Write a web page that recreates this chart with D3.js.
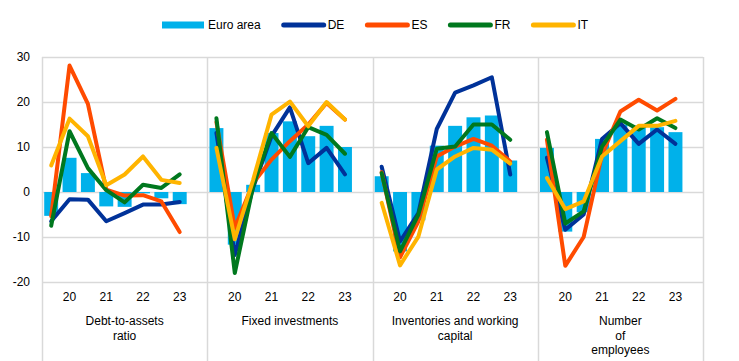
<!DOCTYPE html>
<html>
<head>
<meta charset="utf-8">
<script src="https://cdn.jsdelivr.net/npm/d3@7"></script>
<style>
  html, body { margin: 0; padding: 0; background: #fff; }
  svg { display: block; font-family: "Liberation Sans", Arial, sans-serif; font-size: 12px; }
</style>
</head>
<body>
<svg id="chart" width="739" height="361"></svg>
<script>
// half-year periods, one slot each, last one left empty
const periods = ['19H2', '20H1', '20H2', '21H1', '21H2', '22H1', '22H2', '23H1', '23H2'];
const yearLabels = { '20H1': '20', '21H1': '21', '22H1': '22', '23H1': '23' };
const panels = ['Debt-to-assets ratio', 'Fixed investments', 'Inventories and working capital', 'Number of employees'];
const panelLabels = [['Debt-to-assets', 'ratio'], ['Fixed investments'], ['Inventories and working', 'capital'], ['Number', 'of', 'employees']];
const yTicks = [-20, -10, 0, 10, 20, 30];

// values per panel, periods 19H2 .. 23H1
const euroArea = [
  [-5.3, 7.6, 4.2, -3.2, -3.3, -0.3, -1.4, -2.7],
  [14.2, -11.7, 1.6, 13.1, 15.7, 12.4, 14.7, 10.0],
  [3.5, -13.2, -6.3, 10.3, 14.7, 16.6, 17.0, 7.0],
  [9.8, -8.8, -4.5, 11.8, 15.0, 14.7, 14.4, 13.3]
];
const de = [
  [-6.5, -1.6, -1.7, -6.5, -4.7, -2.8, -2.8, -2.2],
  [13.1, -14.0, 1.0, 12.4, 18.8, 6.4, 9.8, 3.9],
  [5.6, -11.0, -4.7, 14.0, 22.1, 23.7, 25.5, 3.9],
  [7.6, -8.4, -5.0, 11.8, 15.3, 10.7, 13.9, 10.7]
];
const es = [
  [-5.4, 28.1, 19.6, 0.5, -0.8, -0.7, -2.1, -8.9],
  [15.5, -8.0, 2.0, 7.2, 11.3, 15.0, 19.8, 16.1],
  [4.4, -14.5, -6.5, 7.9, 10.1, 11.8, 10.3, 6.8],
  [11.6, -16.4, -10.0, 8.3, 17.9, 20.5, 18.1, 20.7]
];
const fr = [
  [-7.5, 13.5, 5.3, 0.4, -2.3, 1.6, 0.9, 3.9],
  [16.4, -18.0, 1.3, 13.1, 7.8, 14.4, 12.7, 8.5],
  [4.2, -13.2, -5.0, 9.6, 10.1, 15.0, 15.0, 11.6],
  [13.3, -7.0, -4.3, 10.1, 16.1, 13.9, 16.4, 14.2]
];
const it = [
  [5.9, 16.3, 12.4, 1.5, 3.9, 7.9, 2.7, 2.0],
  [9.8, -10.5, 2.7, 17.2, 20.1, 14.6, 20.0, 16.1],
  [-2.4, -16.3, -9.9, 5.0, 7.9, 9.8, 9.4, 6.3],
  [3.1, -3.8, -2.1, 7.9, 11.3, 14.7, 14.7, 15.8]
];

const lineSeries = [
  { name: 'DE', color: '#003299', values: de },
  { name: 'ES', color: '#ff4b00', values: es },
  { name: 'FR', color: '#00781e', values: fr },
  { name: 'IT', color: '#ffb400', values: it }
];
const barColor = '#00b1ea';
const gridColor = '#d9d9d9';

const width = 739, height = 361;
const margin = { top: 57, right: 36, bottom: 79, left: 42 };

const svg = d3.select('#chart');

const y = d3.scaleLinear().domain([-20, 30]).range([height - margin.bottom, margin.top]);
const xPanel = d3.scaleBand().domain(panels).range([margin.left, width - margin.right]);
const xSlot = d3.scaleBand().domain(periods).range([0, xPanel.bandwidth()])
  .paddingInner(0.24).paddingOuter(0.12);
const cx = (pi, i) => xPanel(panels[pi]) + xSlot(periods[i]) + xSlot.bandwidth() / 2;

// horizontal grid
svg.append('g')
  .selectAll('line')
  .data(yTicks)
  .join('line')
  .attr('x1', margin.left)
  .attr('x2', width - margin.right)
  .attr('y1', d => Math.round(y(d)) + 0.5)
  .attr('y2', d => Math.round(y(d)) + 0.5)
  .attr('stroke', gridColor)
  .attr('stroke-width', 1.5);

// panel separators
svg.append('g')
  .selectAll('line')
  .data(d3.range(panels.length + 1))
  .join('line')
  .attr('x1', i => Math.round(margin.left + i * xPanel.bandwidth()) + 0.5)
  .attr('x2', i => Math.round(margin.left + i * xPanel.bandwidth()) + 0.5)
  .attr('y1', margin.top)
  .attr('y2', height)
  .attr('stroke', gridColor)
  .attr('stroke-width', 1.5);

// y tick labels
svg.append('g')
  .selectAll('text')
  .data(yTicks)
  .join('text')
  .attr('x', 30)
  .attr('y', d => y(d))
  .attr('dy', '0.35em')
  .attr('text-anchor', 'end')
  .attr('fill', '#000')
  .text(d => d);

const $panel = svg.append('g')
  .selectAll('g.panel')
  .data(panels)
  .join('g')
  .attr('class', 'panel');

// bars
$panel.each(function(name, pi) {
  const g = d3.select(this);
  g.selectAll('rect')
    .data(euroArea[pi])
    .join('rect')
    .attr('x', (d, i) => xPanel(name) + xSlot(periods[i]))
    .attr('width', xSlot.bandwidth())
    .attr('y', d => y(Math.max(0, d)))
    .attr('height', d => Math.abs(y(d) - y(0)))
    .attr('fill', barColor);
});

// lines
const line = d3.line()
  .x(d => d.x)
  .y(d => y(d.v));

$panel.each(function(name, pi) {
  const g = d3.select(this);
  g.selectAll('path')
    .data(lineSeries)
    .join('path')
    .attr('d', s => line(s.values[pi].map((v, i) => ({ x: cx(pi, i), v }))))
    .attr('fill', 'none')
    .attr('stroke', s => s.color)
    .attr('stroke-width', 4)
    .attr('stroke-linejoin', 'round')
    .attr('stroke-linecap', 'round');
});

// year labels
$panel.each(function(name, pi) {
  const g = d3.select(this);
  g.selectAll('text.year')
    .data(periods.filter(p => yearLabels[p]))
    .join('text')
    .attr('class', 'year')
    .attr('x', p => xPanel(name) + xSlot(p) + xSlot.bandwidth() / 2)
    .attr('y', 297)
    .attr('dy', '0.35em')
    .attr('text-anchor', 'middle')
    .attr('fill', '#000')
    .text(p => yearLabels[p]);

  g.selectAll('text.cat')
    .data(panelLabels[pi])
    .join('text')
    .attr('class', 'cat')
    .attr('x', xPanel(name) + xPanel.bandwidth() / 2)
    .attr('y', (d, i) => 321 + i * 14.5)
    .attr('dy', '0.35em')
    .attr('text-anchor', 'middle')
    .attr('fill', '#000')
    .text(d => d);
});

// legend
const legendItems = [{ name: 'Euro area', color: barColor, bar: true }].concat(lineSeries);
const $legend = svg.append('g');
let lx = 0;
legendItems.forEach(d => {
  const item = $legend.append('g').attr('transform', `translate(${lx},0)`);
  if (d.bar) {
    item.append('rect').attr('x', 0).attr('y', -3.5).attr('width', 42).attr('height', 7).attr('fill', d.color);
  } else {
    item.append('line').attr('x1', 2).attr('x2', 42).attr('y1', 0).attr('y2', 0)
      .attr('stroke', d.color).attr('stroke-width', 5).attr('stroke-linecap', 'round');
  }
  const t = item.append('text').attr('x', 46).attr('dy', '0.35em').attr('fill', '#000').text(d.name);
  lx += 46 + t.node().getComputedTextLength() + 21;
});
const legendW = lx - 21;
$legend.attr('transform', `translate(${Math.round(375 - legendW / 2)},25)`);
</script>
</body>
</html>
